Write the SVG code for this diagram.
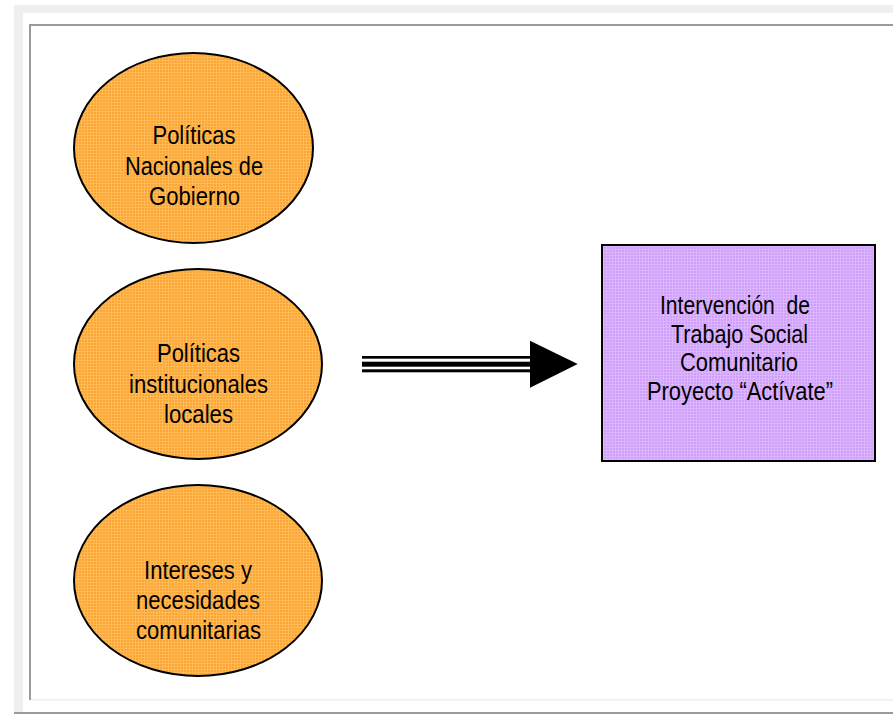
<svg xmlns="http://www.w3.org/2000/svg" width="893" height="714" viewBox="0 0 893 714">
<style>
.lbl{font-family:"Liberation Sans Narrow","Liberation Sans",Arial,sans-serif;font-size:26px;fill:#000;text-anchor:middle}
.ell{fill:url(#orangeTex);stroke:#000;stroke-width:2}
.box{fill:url(#purpleTex);stroke:#000;stroke-width:2}
.frame{fill:#efefef}
.rule{fill:#9a9a9a}
</style>
<defs>
<pattern id="orangeTex" width="3" height="3" patternUnits="userSpaceOnUse">
<rect width="3" height="3" fill="#fba535"/>
<rect width="3" height="1" fill="#ffba55"/>
<rect width="1" height="3" fill="#ffba55"/>
</pattern>
<pattern id="purpleTex" width="3" height="3" patternUnits="userSpaceOnUse">
<rect width="3" height="3" fill="#cf9ffb"/>
<rect width="3" height="1" fill="#dcb6fd"/>
<rect width="1" height="3" fill="#dcb6fd"/>
</pattern>
</defs>
<rect width="893" height="714" fill="#fff"/>
<g id="frame">
<rect class="frame" x="14" y="5" width="879" height="8"/>
<rect class="frame" x="14" y="5" width="9" height="707"/>
<rect class="rule" x="14" y="712" width="879" height="2"/>
<rect class="rule" x="29" y="24" width="2" height="676"/>
<rect class="rule" x="29" y="24" width="864" height="2"/>
<rect class="frame" x="31" y="699" width="862" height="1.6"/>
</g>
<g id="node-politicas-nacionales">
<ellipse class="ell" cx="193.5" cy="148" rx="119.5" ry="95"/>
<text class="lbl" x="194" y="144" textLength="83" lengthAdjust="spacingAndGlyphs">Políticas</text>
<text class="lbl" x="194" y="174.5" textLength="138" lengthAdjust="spacingAndGlyphs">Nacionales de</text>
<text class="lbl" x="194.5" y="204.5" textLength="91" lengthAdjust="spacingAndGlyphs">Gobierno</text>
</g>
<g id="node-politicas-institucionales">
<ellipse class="ell" cx="198" cy="364" rx="124" ry="95"/>
<text class="lbl" x="198.5" y="362" textLength="83" lengthAdjust="spacingAndGlyphs">Políticas</text>
<text class="lbl" x="198.5" y="393" textLength="139" lengthAdjust="spacingAndGlyphs">institucionales</text>
<text class="lbl" x="198.5" y="423" textLength="69" lengthAdjust="spacingAndGlyphs">locales</text>
</g>
<g id="node-intereses">
<ellipse class="ell" cx="198" cy="580.5" rx="124" ry="95.5"/>
<text class="lbl" x="198" y="579" textLength="108" lengthAdjust="spacingAndGlyphs">Intereses y</text>
<text class="lbl" x="198" y="609" textLength="124" lengthAdjust="spacingAndGlyphs">necesidades</text>
<text class="lbl" x="198.5" y="639" textLength="125" lengthAdjust="spacingAndGlyphs">comunitarias</text>
</g>
<g id="node-intervencion">
<rect class="box" x="602" y="245" width="273" height="216"/>
<text class="lbl" x="735" y="314" textLength="150" lengthAdjust="spacingAndGlyphs" xml:space="preserve">Intervención  de</text>
<text class="lbl" x="739.5" y="342.5" textLength="137" lengthAdjust="spacingAndGlyphs">Trabajo Social</text>
<text class="lbl" x="739" y="371" textLength="118" lengthAdjust="spacingAndGlyphs">Comunitario</text>
<text class="lbl" x="740" y="400" textLength="186" lengthAdjust="spacingAndGlyphs">Proyecto “Actívate”</text>
</g>
<g id="connectors">
<rect x="362" y="356" width="169" height="2.7" fill="#000"/>
<rect x="362" y="361.7" width="169" height="5" fill="#000"/>
<rect x="362" y="369.3" width="169" height="3" fill="#000"/>
<polygon points="530,340.7 577.7,364 530,387.7" fill="#000"/>
</g>
</svg>
